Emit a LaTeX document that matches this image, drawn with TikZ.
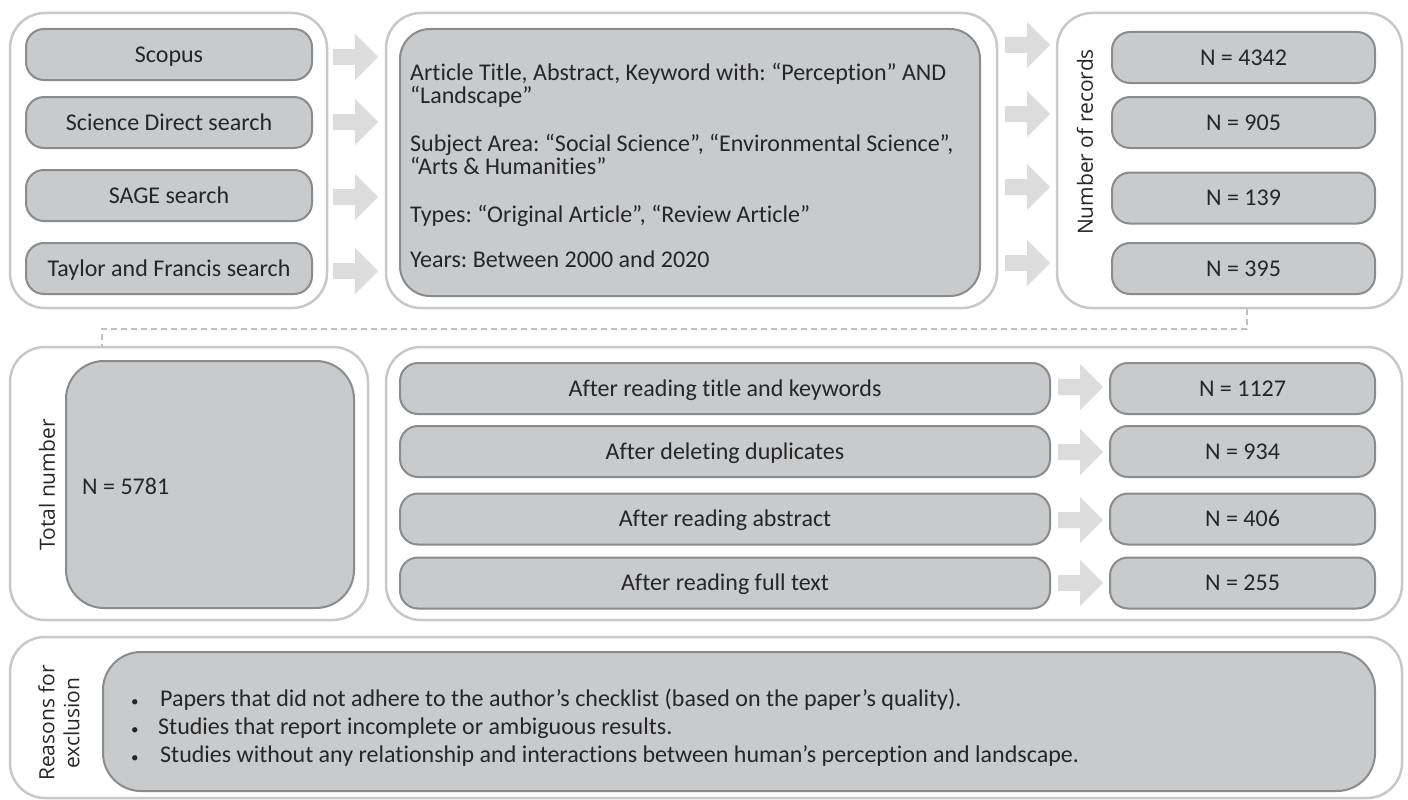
\documentclass[tikz,border=0pt]{standalone}
\usepackage{fontspec}
\setmainfont{Carlito}[Ligatures={NoCommon,NoContextual}]
\newfontfamily\labelfont{Open Sans}
\frenchspacing
\definecolor{outerc}{HTML}{C8C8C8}
\definecolor{innerfill}{HTML}{C9CACC}
\definecolor{innerline}{HTML}{8A8B8D}
\definecolor{arrowc}{HTML}{DCDCDC}
\definecolor{dashc}{HTML}{C0C0C0}
\definecolor{textc}{HTML}{262626}
\newcommand\blockarr[2]{\fill[arrowc] (#1,#2) ++(0,-8) -- ++(22,0) -- ++(0,-15) -- ++(23,23) -- ++(-23,23) -- ++(0,-15) -- ++(-22,0) -- cycle;}
\tikzset{
  every node/.style={font=\fontsize{24}{29}\selectfont, text=textc, inner sep=0pt},
  outerbox/.style={draw=outerc, line width=2.5pt, rounded corners=35pt, fill=white},
  innerbox/.style={draw=innerline, line width=2pt, rounded corners=18pt, fill=innerfill, text height=15.5pt, text depth=0pt},
  bigbox/.style={draw=innerline, line width=2pt, rounded corners=38pt, fill=innerfill},
  sidelabel/.style={font=\labelfont\fontsize{21}{25}\selectfont, rotate=90, align=center},
  dashline/.style={draw=dashc, line width=2pt, dash pattern=on 6pt off 4pt}
}
\begin{document}
\begin{tikzpicture}[x=1pt,y=-1pt]
\useasboundingbox (0,0) rectangle (1408,800);

% outer containers
\node[outerbox, minimum width=317, minimum height=295] (src) at (168.5,160.5) {};
\node[outerbox, minimum width=611, minimum height=295] (critbox) at (691.5,160.5) {};
\node[outerbox, minimum width=345, minimum height=295] (rec) at (1229.5,160.5) {};
\node[outerbox, minimum width=358, minimum height=273] (tot) at (189,483.5) {};
\node[outerbox, minimum width=1016, minimum height=273] (screen) at (894,483.5) {};
\node[outerbox, minimum width=1392, minimum height=161] (excl) at (706,717.5) {};

% sources
\node[innerbox, minimum width=286, minimum height=51] (s1) at (169,54.5) {Scopus};
\node[innerbox, minimum width=286, minimum height=51] (s2) at (169,122.5) {Science Direct search};
\node[innerbox, minimum width=286, minimum height=51] (s3) at (169,195.5) {SAGE search};
\node[innerbox, minimum width=286, minimum height=51] (s4) at (169,268.5) {Taylor and Francis search};

% criteria
\node[draw=innerline, line width=2pt, rounded corners=30pt, fill=innerfill, minimum width=580, minimum height=267] (crit) at (690,162.5) {};
\node[anchor=west, align=left, font=\fontsize{24}{23}\selectfont] (crittext) at ([xshift=11pt,yshift=-3pt]crit.west)
{Article Title, Abstract, Keyword with: “Perception” AND\\
“Landscape”\\[25pt]
Subject Area: “Social Science”, “Environmental Science”,\\
“Arts \& Humanities”\\[25pt]
Types: “Original Article”, “Review Article”\\[22pt]
Years: Between 2000 and 2020};

% records
\node[sidelabel] (reclabel) at (1085,142) {Number of records};
\node[innerbox, minimum width=263, minimum height=51] (n1) at (1243.5,57.5) {N = 4342};
\node[innerbox, minimum width=263, minimum height=51] (n2) at (1243.5,122.5) {N = 905};
\node[innerbox, minimum width=263, minimum height=51] (n3) at (1243.5,198) {N = 139};
\node[innerbox, minimum width=263, minimum height=51] (n4) at (1243.5,268.5) {N = 395};

% total
\node[sidelabel] (totlabel) at (47,485) {Total number};
\node[bigbox, minimum width=288, minimum height=247] (total) at (210,484.5) {};
\node[anchor=west] (totaltext) at ([xshift=17pt,yshift=-2pt]total.west) {N = 5781};

% screening
\node[innerbox, minimum width=650, minimum height=51] (a1) at (725,388.5) {After reading title and keywords};
\node[innerbox, minimum width=650, minimum height=51] (a2) at (725,451.5) {After deleting duplicates};
\node[innerbox, minimum width=650, minimum height=51] (a3) at (725,519) {After reading abstract};
\node[innerbox, minimum width=650, minimum height=51] (a4) at (725,583) {After reading full text};
\node[innerbox, minimum width=265, minimum height=51] (m1) at (1242.5,388.5) {N = 1127};
\node[innerbox, minimum width=265, minimum height=51] (m2) at (1242.5,451.5) {N = 934};
\node[innerbox, minimum width=265, minimum height=51] (m3) at (1242.5,519) {N = 406};
\node[innerbox, minimum width=265, minimum height=51] (m4) at (1242.5,583) {N = 255};

% exclusion
\node[sidelabel] (exlabel) at (59,723) {Reasons for\\exclusion};
\node[bigbox, minimum width=1272, minimum height=139] (reasons) at (739,721.5) {};
\node[anchor=west, align=left, font=\fontsize{24}{28}\selectfont] (reasontext) at (131,728)
{\makebox[29pt][l]{\fontsize{15}{15}\selectfont •}Papers that did not adhere to the author’s checklist (based on the paper’s quality).\\
\makebox[27pt][l]{\fontsize{15}{15}\selectfont •}Studies that report incomplete or ambiguous results.\\
\makebox[29pt][l]{\fontsize{15}{15}\selectfont •}Studies without any relationship and interactions between human’s perception and landscape.};

% block arrows
\blockarr{333}{57}
\blockarr{333}{122}
\blockarr{333}{197}
\blockarr{333}{271}
\blockarr{1005}{45}
\blockarr{1005}{114}
\blockarr{1005}{187}
\blockarr{1005}{263}
\blockarr{1058}{387}
\blockarr{1058}{452}
\blockarr{1058}{520}
\blockarr{1058}{583}

% dashed connector
\draw[dashline] ([xshift=17.5pt]rec.south) -- ++(0,20) -| ([xshift=-87pt]tot.north);
\end{tikzpicture}
\end{document}
